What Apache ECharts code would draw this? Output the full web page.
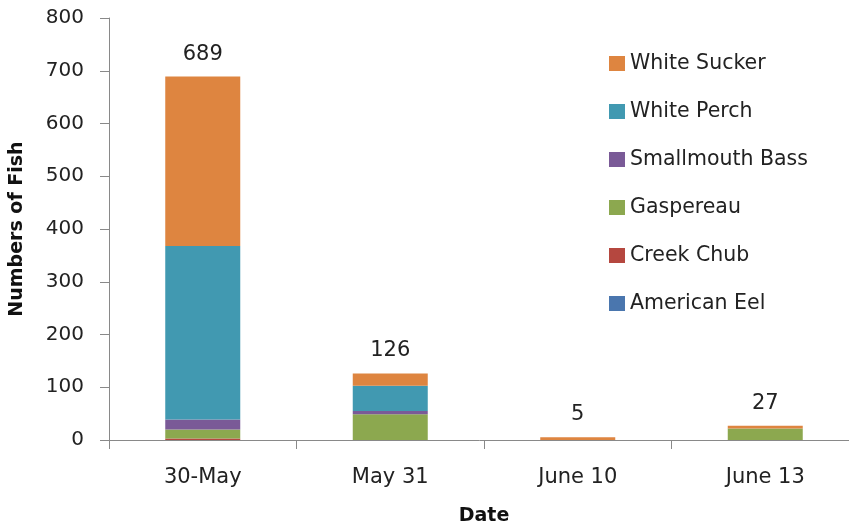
<!DOCTYPE html>
<html><head><meta charset="utf-8">
<script src="https://cdn.jsdelivr.net/npm/echarts@6/dist/echarts.min.js"></script>
<style>html,body{margin:0;padding:0;background:#fff}#c{width:849px;height:529px}</style>
</head><body><div id="c"></div>
<script>
const categories = ['30-May', 'May 31', 'June 10', 'June 13'];
const americanEel = [0, 0, 0, 0];
const creekChub = [3, 0, 0, 0];
const gaspereau = [17, 49, 0, 22];
const smallmouthBass = [19, 6, 0, 0];
const whitePerch = [329, 48, 0, 0];
const whiteSucker = [321, 23, 5, 5];
const yTicks = [0, 100, 200, 300, 400, 500, 600, 700, 800];

const FONT = 'DejaVu Sans';
const totals = categories.map((_, i) =>
  americanEel[i] + creekChub[i] + gaspereau[i] + smallmouthBass[i] + whitePerch[i] + whiteSucker[i]);

const seriesDefs = [
  ['American Eel', americanEel, '#4A76AE'],
  ['Creek Chub', creekChub, '#B5473F'],
  ['Gaspereau', gaspereau, '#8CA84F'],
  ['Smallmouth Bass', smallmouthBass, '#7A5A97'],
  ['White Perch', whitePerch, '#4199B1'],
  ['White Sucker', whiteSucker, '#DE8540']
];

const series = seriesDefs.map(([name, data, color], idx) => {
  const s = {
    name, type: 'bar', stack: 'total', data, barWidth: '40%',
    itemStyle: { color }, emphasis: { disabled: true }
  };
  if (idx === seriesDefs.length - 1) {
    s.label = {
      show: true, position: 'top', distance: 12,
      fontFamily: FONT, fontSize: 21, color: '#222',
      formatter: p => String(totals[p.dataIndex])
    };
  }
  return s;
});

const chart = echarts.init(document.getElementById('c'));
chart.setOption({
  animation: false,
  backgroundColor: '#fff',
  grid: { left: 109, right: -10, top: 18, bottom: 89, containLabel: false, outerBoundsMode: 'none' },
  legend: {
    orient: 'vertical', left: 604, top: 48,
    icon: 'rect', itemWidth: 16, itemHeight: 15, itemGap: 27,
    data: ['White Sucker', 'White Perch', 'Smallmouth Bass', 'Gaspereau', 'Creek Chub', 'American Eel'],
    textStyle: { fontFamily: FONT, fontSize: 20.5, color: '#222', lineHeight: 21 },
    selectedMode: false
  },
  xAxis: {
    type: 'category', data: categories,
    name: 'Date', nameLocation: 'middle', nameGap: 67,
    nameTextStyle: { fontFamily: FONT, fontSize: 19, fontWeight: 'bold', color: '#111' },
    axisLine: { lineStyle: { color: '#898989', width: 1 } },
    axisTick: { show: true, length: 9, lineStyle: { color: '#898989' } },
    axisLabel: { fontFamily: FONT, fontSize: 21, color: '#222', margin: 27 }
  },
  yAxis: {
    type: 'value', min: 0, max: 800, interval: 100,
    name: 'Numbers of Fish', nameLocation: 'middle', nameGap: 82,
    nameTextStyle: { fontFamily: FONT, fontSize: 19, fontWeight: 'bold', color: '#111' },
    axisLine: { show: true, lineStyle: { color: '#898989', width: 1 } },
    axisTick: { show: true, length: 9, lineStyle: { color: '#898989' } },
    splitLine: { show: false },
    axisLabel: {
      fontFamily: FONT, fontSize: 20, color: '#222', margin: 25,
      formatter: v => yTicks.includes(v) ? String(v) : ''
    }
  },
  series
});
</script></body></html>
